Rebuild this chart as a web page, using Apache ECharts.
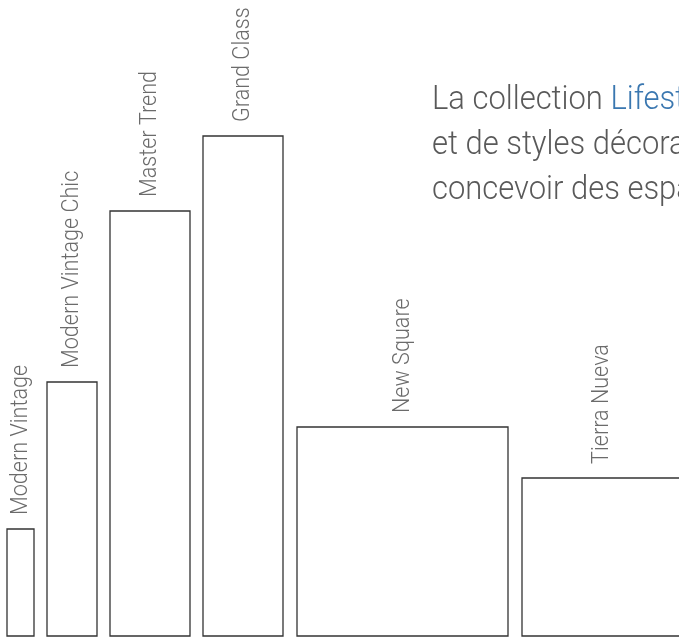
<!DOCTYPE html>
<html>
<head>
<meta charset="utf-8">
<script src="https://cdn.jsdelivr.net/npm/echarts@6/dist/echarts.min.js"></script>
<style>
    html, body { margin: 0; padding: 0; background: #fff; }
    #chart { width: 679px; height: 640px; }
</style>
</head>
<body>
<div id="chart"></div>
<script>
// collections, with the span each one takes on the floor and its height
const collections = ['Modern Vintage', 'Modern Vintage Chic', 'Master Trend', 'Grand Class', 'New Square', 'Tierra Nueva'];
const spanFrom = [7, 47, 110, 203, 297, 522];
const spanTo = [34, 97, 190, 283, 508, 682];
const heights = [107, 254, 425, 500, 209, 158];

const introLines = [
    '{t|La collection }{b|Lifestyle}{t| propose une large gamme de couleurs}',
    '{t|et de styles décoratifs pour vous permettre de}',
    '{t|concevoir des espaces uniques}'
];

const chart = echarts.init(document.getElementById('chart'));

const renderBox = function (params, api) {
    const top = api.coord([api.value(0), api.value(2)]);
    const bottom = api.coord([api.value(1), 0]);
    const cx = (top[0] + bottom[0]) / 2;
    return {
        type: 'group',
        children: [{
                type: 'rect',
                shape: {x: top[0], y: top[1], width: bottom[0] - top[0], height: bottom[1] - top[1]},
                style: {fill: '#fff', stroke: '#333', lineWidth: 1.3}
            }, {
                type: 'text',
                x: cx,
                y: top[1] - 14,
                rotation: Math.PI / 2,
                scaleX: 0.9, // the original face is narrower than Roboto
                style: {
                    text: collections[params.dataIndex],
                    fill: '#6b6b6b',
                    font: '300 24px Roboto',
                    align: 'left',
                    verticalAlign: 'middle'
                }
            }]
    };
};

chart.setOption({
    animation: false,
    grid: {left: 0, right: 0, top: 0, bottom: 4},
    xAxis: {type: 'value', min: 0, max: 679, show: false},
    yAxis: {type: 'value', min: 0, max: 636, show: false},
    graphic: [{
            type: 'text',
            x: 432,
            y: 78,
            scaleX: 0.91,
            style: {
                text: introLines.join('\n'),
                align: 'left',
                verticalAlign: 'top',
                lineHeight: 45,
                rich: {
                    t: {fill: '#595959', font: '300 34px Roboto', lineHeight: 45},
                    b: {fill: '#3a77b0', font: '300 34px Roboto', lineHeight: 45}
                }
            }
        }],
    series: [{
            type: 'custom',
            renderItem: renderBox,
            data: collections.map((c, i) => [spanFrom[i], spanTo[i], heights[i]])
        }]
});
</script>
</body>
</html>
